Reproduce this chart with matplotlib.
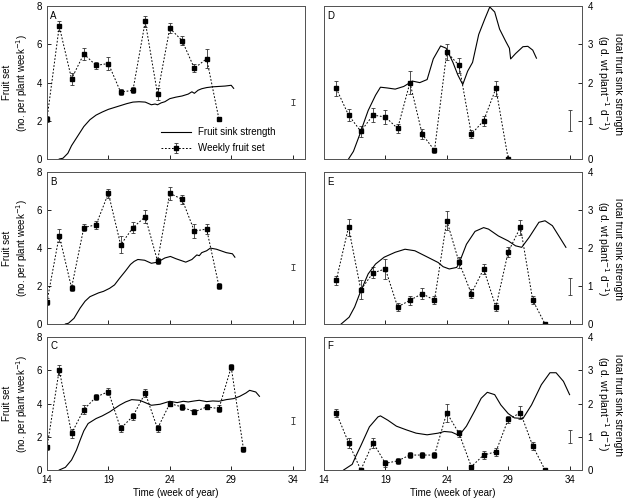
import matplotlib
matplotlib.use('Agg')
import matplotlib.pyplot as plt
import numpy as np

plt.rcParams['font.family'] = ['Liberation Sans', 'DejaVu Sans']
plt.rcParams['font.size'] = 7

# weekly fruit set (no. per plant week-1), one list per panel
weeks_A = [14, 15, 16, 17, 18, 19, 20, 21, 22, 23, 24, 25, 26, 27, 28]
set_A = [2.1, 6.95, 4.2, 5.5, 4.9, 5.0, 3.5, 3.6, 7.2, 3.4, 6.85, 6.2, 4.75, 5.25, 2.1]
err_A = [0.15, 0.25, 0.3, 0.3, 0.2, 0.35, 0.15, 0.15, 0.3, 0.3, 0.25, 0.25, 0.2, 0.5, 0.1]

weeks_B = [14, 15, 16, 17, 18, 19, 20, 21, 22, 23, 24, 25, 26, 27, 28]
set_B = [1.18, 4.66, 1.91, 5.08, 5.23, 6.89, 4.17, 5.08, 5.65, 3.32, 6.89, 6.57, 4.9, 5.0, 2.0]
err_B = [0.2, 0.35, 0.15, 0.2, 0.2, 0.25, 0.45, 0.3, 0.35, 0.15, 0.35, 0.25, 0.35, 0.25, 0.15]

weeks_C = [14, 15, 16, 17, 18, 19, 20, 21, 22, 23, 24, 25, 26, 27, 28, 29, 30]
set_C = [1.36, 6.04, 2.2, 3.64, 4.4, 4.72, 2.5, 3.24, 4.64, 2.5, 4.0, 3.8, 3.5, 3.8, 3.7, 6.2, 1.26]
err_C = [0.15, 0.3, 0.25, 0.25, 0.2, 0.2, 0.2, 0.2, 0.25, 0.2, 0.15, 0.2, 0.15, 0.15, 0.2, 0.2, 0.15]

weeks_D = [15, 16, 17, 18, 19, 20, 21, 22, 23, 24, 25, 26, 27, 28, 29]
set_D = [3.7, 2.3, 1.45, 2.3, 2.2, 1.6, 4.0, 1.3, 0.45, 5.6, 4.9, 1.3, 2.0, 3.7, 0.0]
err_D = [0.4, 0.3, 0.3, 0.35, 0.35, 0.25, 0.6, 0.25, 0.12, 0.4, 0.4, 0.2, 0.25, 0.4, 0.0]

weeks_E = [15, 16, 17, 18, 19, 20, 21, 22, 23, 24, 25, 26, 27, 28, 29, 30, 31, 32]
set_E = [2.3, 5.1, 1.8, 2.7, 2.9, 0.9, 1.25, 1.6, 1.25, 5.45, 3.25, 1.6, 2.9, 0.9, 3.8, 5.1, 1.25, 0.0]
err_E = [0.25, 0.45, 0.5, 0.3, 0.55, 0.2, 0.25, 0.3, 0.2, 0.5, 0.3, 0.25, 0.25, 0.2, 0.25, 0.4, 0.2, 0.0]

weeks_F = [15, 16, 17, 18, 19, 20, 21, 22, 23, 24, 25, 26, 27, 28, 29, 30, 31, 32]
set_F = [3.45, 1.65, 0.0, 1.65, 0.4, 0.55, 0.9, 0.9, 0.9, 3.45, 2.2, 0.2, 0.9, 1.1, 3.05, 3.45, 1.45, 0.0]
err_F = [0.25, 0.3, 0.0, 0.3, 0.2, 0.2, 0.2, 0.2, 0.2, 0.55, 0.2, 0.1, 0.25, 0.25, 0.2, 0.4, 0.25, 0.0]

# separate error bar drawn at week 34
ref_week = 34
ref_val = [3.0, 3.0, 3.0, 2.0, 2.0, 2.0]
ref_err = [0.15, 0.15, 0.2, 0.55, 0.45, 0.4]

# total fruit sink strength (g d. wt plant-1 d-1)
sink_wk_A = [15.0, 15.3, 15.7, 16.0, 16.5, 17.0, 17.5, 18.0, 18.5, 19.0, 19.5, 20.0, 20.5, 21.0, 21.5,
             22.0, 22.5, 22.8, 23.0, 23.3, 23.6, 24.0, 24.5, 25.0, 25.5, 25.8, 26.0, 26.3, 26.6, 27.0,
             27.5, 28.0, 28.5, 29.0, 29.2]
sink_A = [0.0, 0.02, 0.15, 0.35, 0.6, 0.85, 1.03, 1.15, 1.23, 1.3, 1.35, 1.4, 1.45, 1.49, 1.5,
          1.49, 1.42, 1.44, 1.42, 1.47, 1.5, 1.58, 1.62, 1.65, 1.7, 1.76, 1.72, 1.8, 1.84, 1.87,
          1.89, 1.9, 1.91, 1.93, 1.85]

sink_wk_B = [15.5, 15.75, 16.2, 16.7, 17.1, 17.5, 18.2, 18.6, 19.1, 19.5, 19.9, 20.4, 20.8, 21.1, 21.4,
             21.95, 22.5, 23.0, 23.6, 24.05, 24.5, 25.3, 25.8, 26.2, 26.4, 26.6, 27.0, 27.3, 27.8, 28.6,
             29.1, 29.3]
sink_B = [0.0, 0.02, 0.15, 0.42, 0.6, 0.72, 0.82, 0.86, 0.94, 1.03, 1.2, 1.4, 1.57, 1.65, 1.7,
          1.68, 1.6, 1.63, 1.74, 1.78, 1.72, 1.63, 1.7, 1.82, 1.8, 1.88, 1.93, 2.0, 1.97, 1.88,
          1.85, 1.76]

sink_wk_C = [15.0, 15.5, 16.0, 16.4, 16.7, 17.0, 17.35, 18.0, 18.5, 19.1, 19.9, 20.4, 20.9, 21.55, 22.0,
             22.5, 23.2, 24.0, 24.6, 25.1, 25.5, 26.0, 26.4, 27.0, 27.5, 28.0, 28.6, 29.2, 29.7, 30.2,
             30.5, 31.0, 31.3]
sink_C = [0.0, 0.08, 0.3, 0.6, 0.9, 1.18, 1.4, 1.55, 1.63, 1.75, 1.95, 2.05, 2.12, 2.1, 2.03,
          1.95, 1.98, 2.07, 2.03, 2.07, 2.05, 2.08, 2.1, 2.06, 2.08, 2.07, 2.12, 2.15, 2.22, 2.32,
          2.4, 2.35, 2.22]

sink_wk_D = [16.0, 16.4, 16.9, 17.3, 17.6, 18.2, 18.6, 19.15, 19.8, 20.5, 21.2, 21.8, 22.4, 22.9, 23.5,
             23.95, 24.5, 24.9, 25.3, 25.7, 26.1, 26.6, 27.1, 27.5, 27.9, 28.3, 28.8, 29.1, 29.2, 29.6,
             30.2, 30.6, 31.0, 31.3]
sink_D = [0.0, 0.2, 0.63, 1.0, 1.27, 1.67, 1.88, 1.86, 1.83, 1.9, 2.04, 2.0, 2.08, 2.62, 2.96,
          2.9, 2.53, 2.2, 1.95, 2.3, 2.53, 3.26, 3.67, 3.98, 3.85, 3.4, 3.08, 2.9, 2.62, 2.76,
          2.94, 2.95, 2.85, 2.64]

sink_wk_E = [15.4, 16.05, 16.5, 16.9, 17.6, 18.2, 18.9, 19.8, 20.6, 21.4, 22.2, 23.3, 23.7, 24.2, 24.8,
             25.0, 25.6, 26.3, 27.0, 27.4, 28.2, 29.0, 29.6, 30.1, 30.7, 31.5, 32.0, 32.6, 33.2, 33.7]
sink_E = [0.0, 0.18, 0.45, 0.79, 1.32, 1.58, 1.76, 1.89, 1.97, 1.93, 1.8, 1.62, 1.51, 1.45, 1.49,
          1.6, 2.1, 2.44, 2.54, 2.5, 2.32, 2.19, 2.06, 2.02, 2.28, 2.68, 2.72, 2.59, 2.28, 2.02]

sink_wk_F = [15.6, 16.3, 16.6, 17.0, 17.7, 18.4, 18.6, 19.2, 19.9, 20.7, 21.5, 22.4, 23.3, 23.8, 24.4,
             25.0, 25.6, 26.3, 26.8, 27.3, 27.9, 28.4, 29.0, 29.5, 30.2, 30.9, 31.7, 32.4, 32.9, 33.5,
             34.0]
sink_F = [0.0, 0.17, 0.42, 0.73, 1.3, 1.6, 1.63, 1.5, 1.32, 1.21, 1.11, 1.06, 1.11, 1.16, 1.14,
          1.04, 1.32, 1.8, 2.16, 2.34, 2.27, 1.96, 1.7, 1.57, 1.55, 1.96, 2.57, 2.93, 2.93, 2.67,
          2.27]

panels = [
    ('A', weeks_A, set_A, err_A, sink_wk_A, sink_A),
    ('B', weeks_B, set_B, err_B, sink_wk_B, sink_B),
    ('C', weeks_C, set_C, err_C, sink_wk_C, sink_C),
    ('D', weeks_D, set_D, err_D, sink_wk_D, sink_D),
    ('E', weeks_E, set_E, err_E, sink_wk_E, sink_E),
    ('F', weeks_F, set_F, err_F, sink_wk_F, sink_F),
]

fig = plt.figure(figsize=(6.23, 5.01), dpi=100)

# axes boxes (left, bottom, width, height) in figure fractions
col_x = [(0.0754, 0.414), (0.520, 0.414)]
row_y = [(0.6826, 0.305), (0.3533, 0.303), (0.0619, 0.265)]

for i, (letter, wk, fs, fe, swk, ss) in enumerate(panels):
    col = i // 3
    row = i % 3
    box = [col_x[col][0], row_y[row][0], col_x[col][1], row_y[row][1]]
    ax = fig.add_axes(box)
    ax2 = ax.twinx()

    ax.set_xlim(14, 35)
    ax.set_ylim(0, 8)
    ax2.set_ylim(0, 4)
    ax.set_xticks([14, 19, 24, 29, 34])

    # sink strength line (right scale)
    ln_sink, = ax2.plot(swk, ss, color='black', lw=0.8)

    # weekly fruit set (left scale)
    ln_set = ax.errorbar(wk, fs, yerr=fe, fmt='s', ls=(0, (1.8, 1.8)), color='black', lw=0.7,
                         ms=2.4, elinewidth=0.6, capsize=1.5, capthick=0.6, ecolor='#333333')
    ax.errorbar([ref_week], [ref_val[i]], yerr=[ref_err[i]], fmt='none', ecolor='#333333',
                elinewidth=0.6, capsize=1.5, capthick=0.6)

    ax.tick_params(direction='in', length=3, width=0.6, top=False, right=False)
    ax2.tick_params(direction='in', length=3, width=0.6, pad=4)
    for a in (ax, ax2):
        for s in a.spines.values():
            s.set_linewidth(0.7)
            s.set_color('#555555')

    if col == 0:
        ax.set_yticks([0, 2, 4, 6, 8])
        ax2.set_yticks([])
        ax.set_ylabel('Fruit set\n(no. per plant week$^{-1}$)', va='center', ha='center')
        ax.yaxis.set_label_coords(-0.12, 0.5)
    else:
        ax.set_yticks([])
        ax2.set_yticks([0, 1, 2, 3, 4])
        ax2.set_ylabel('Total fruit sink strength\n(g d. wt plant$^{-1}$ d$^{-1}$)',
                       rotation=270, va='center', ha='center', fontsize=7.5)
        ax2.yaxis.set_label_coords(1.105, 0.5)

    if row == 2:
        ax.set_xlabel('Time (week of year)', labelpad=2)
    else:
        ax.set_xticklabels([])

    ax.text(0.012, 0.97, letter, transform=ax.transAxes, ha='left', va='top', fontsize=7)

    if letter == 'A':
        ax2.legend([ln_sink, ln_set], ['Fruit sink strength', 'Weekly fruit set'],
                   loc='lower left', bbox_to_anchor=(0.41, -0.02), frameon=False,
                   handlelength=3.0, handletextpad=0.8, numpoints=1, labelspacing=0.6)

fig.savefig('out.png', dpi=100)
